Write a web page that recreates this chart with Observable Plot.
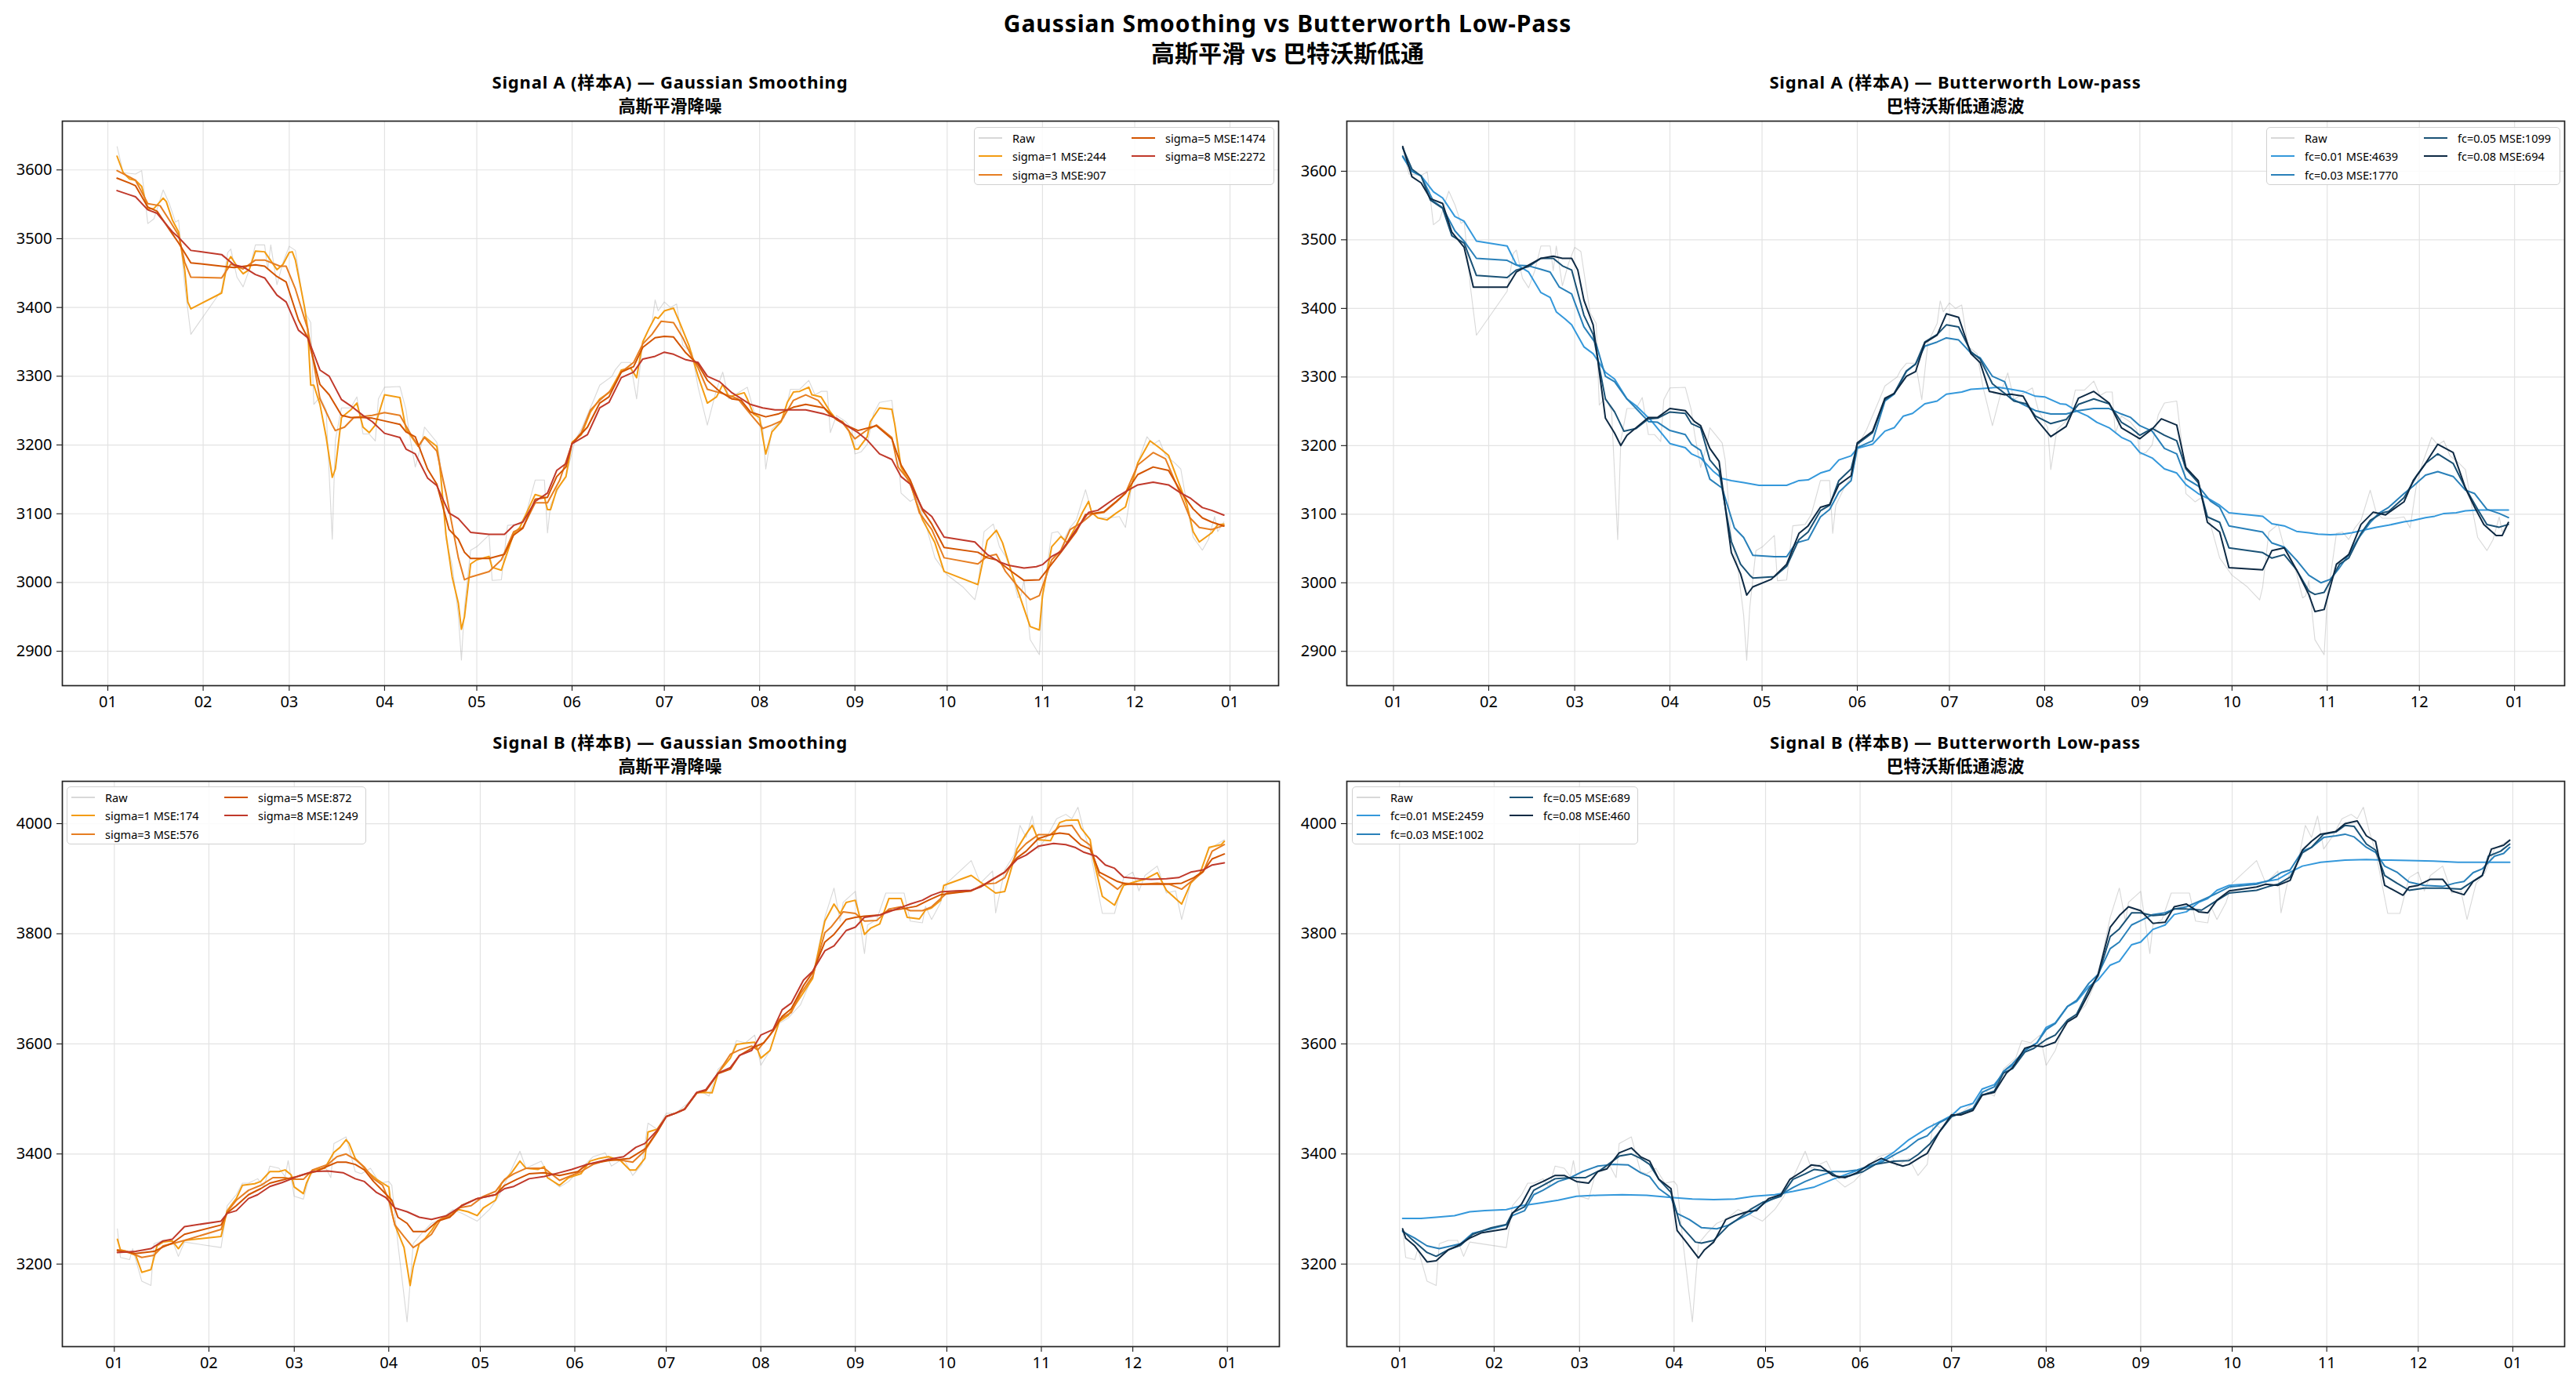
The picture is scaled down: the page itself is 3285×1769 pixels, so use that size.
<!DOCTYPE html>
<html><head><meta charset="utf-8">
<script src="https://cdn.jsdelivr.net/npm/d3@7"></script>
<script src="https://cdn.jsdelivr.net/npm/@observablehq/plot@0.6"></script>
<style>
body{margin:0;background:#fff;}
#fig{position:relative;width:3285px;height:1769px;background:#fff;overflow:hidden;font-family:"Noto Sans","Noto Sans CJK SC",sans-serif;color:#000;}
.t{position:absolute;transform:translate(-50%,-50%);white-space:nowrap;font-weight:bold;text-align:center;line-height:1.1;}
.panel{position:absolute;}
.legend{position:absolute;border:1.3px solid #d0d0d0;border-radius:5px;background:rgba(255,255,255,0.85);box-sizing:border-box;}
</style></head>
<body><div id="fig"></div>
<script>
// ---------------- DATA ----------------
// day = days since 2023-01-01
const figTitle = ["Gaussian Smoothing vs Butterworth Low-Pass", "高斯平滑 vs 巴特沃斯低通"];
const panelTitles = [
  ["Signal A (样本A) — Gaussian Smoothing", "高斯平滑降噪"],
  ["Signal A (样本A) — Butterworth Low-pass", "巴特沃斯低通滤波"],
  ["Signal B (样本B) — Gaussian Smoothing", "高斯平滑降噪"],
  ["Signal B (样本B) — Butterworth Low-pass", "巴特沃斯低通滤波"]
];
const sigmas = [1, 3, 5, 8];
const cutoffs = ["0.01", "0.03", "0.05", "0.08"];
const A_gaussMSE = [244, 907, 1474, 2272];
const A_butterMSE = [4639, 1770, 1099, 694];
const B_gaussMSE = [174, 576, 872, 1249];
const B_butterMSE = [2459, 1002, 689, 460];
const A_yTicks = [2900, 3000, 3100, 3200, 3300, 3400, 3500, 3600];
const B_yTicks = [3200, 3400, 3600, 3800, 4000];

const A_raw = [[3,3634],[5,3596],[9,3594],[11,3599],[13,3522],[15,3529],[18,3571],[20,3551],[22,3524],[23,3527],[25,3433],[27,3361],[37,3425],[39,3480],[40,3485],[42,3444],[44,3430],[46,3455],[48,3491],[51,3491],[52,3455],[53,3491],[55,3433],[57,3466],[59,3489],[61,3483],[64,3394],[66,3378],[67,3259],[69,3270],[71,3251],[73,3063],[74,3207],[76,3254],[79,3254],[81,3270],[83,3216],[85,3216],[87,3206],[88,3267],[90,3284],[95,3285],[97,3251],[98,3218],[100,3168],[102,3201],[103,3226],[107,3204],[108,3179],[110,3063],[112,3025],[114,2953],[115,2887],[116,2964],[118,3047],[120,3052],[124,3069],[125,3003],[128,3004],[130,3083],[134,3085],[136,3099],[139,3149],[142,3149],[143,3072],[144,3113],[147,3141],[149,3154],[152,3207],[154,3223],[158,3265],[160,3287],[164,3300],[165,3309],[167,3320],[170,3320],[172,3267],[174,3350],[177,3378],[178,3411],[179,3395],[181,3408],[183,3400],[185,3405],[187,3345],[190,3334],[192,3284],[195,3229],[198,3281],[200,3306],[202,3267],[205,3276],[208,3284],[210,3251],[213,3226],[214,3165],[216,3223],[220,3240],[222,3281],[225,3281],[228,3294],[230,3273],[232,3278],[234,3278],[235,3218],[237,3243],[240,3234],[242,3223],[243,3187],[245,3190],[247,3201],[249,3245],[251,3262],[255,3265],[257,3190],[258,3130],[261,3118],[263,3124],[266,3085],[269,3036],[273,3011],[278,2994],[282,2975],[283,2994],[285,3074],[288,3085],[290,3052],[292,3038],[294,3014],[296,2978],[297,2981],[298,3003],[300,2917],[303,2895],[304,2975],[307,3072],[309,3074],[311,3063],[313,3080],[315,3091],[318,3135],[320,3102],[322,3094],[326,3094],[329,3096],[331,3080],[333,3141],[335,3174],[338,3212],[340,3201],[342,3207],[344,3185],[347,3174],[349,3165],[351,3113],[353,3066],[356,3047],[358,3063],[360,3096],[361,3074],[363,3088]];
const A_g1 = [[3,3620],[5,3596],[7,3587],[9,3585],[11,3576],[13,3543],[15,3544],[17,3554],[18,3559],[19,3554],[21,3527],[23,3510],[25,3455],[26,3408],[27,3398],[37,3421],[39,3467],[40,3474],[42,3460],[44,3449],[46,3455],[48,3482],[51,3481],[55,3455],[57,3463],[59,3480],[60,3481],[61,3469],[64,3400],[65,3369],[66,3287],[67,3287],[69,3259],[71,3212],[73,3153],[74,3165],[76,3240],[79,3251],[81,3261],[83,3226],[85,3218],[87,3229],[90,3273],[95,3269],[97,3223],[101,3198],[103,3212],[107,3198],[108,3168],[110,3069],[112,3008],[114,2970],[115,2932],[116,2950],[118,3027],[120,3033],[124,3038],[125,3022],[128,3018],[132,3071],[134,3080],[139,3128],[142,3124],[143,3106],[144,3106],[146,3135],[149,3154],[151,3204],[154,3215],[157,3248],[160,3267],[163,3276],[166,3300],[167,3309],[170,3312],[172,3298],[174,3350],[176,3369],[178,3386],[179,3384],[181,3395],[184,3399],[186,3378],[189,3345],[192,3300],[195,3261],[198,3270],[200,3288],[202,3270],[207,3276],[208,3267],[210,3245],[212,3240],[213,3212],[214,3187],[216,3219],[219,3234],[221,3262],[223,3277],[225,3278],[228,3284],[229,3273],[232,3270],[235,3248],[237,3237],[239,3234],[241,3221],[243,3194],[244,3194],[247,3212],[248,3234],[251,3254],[255,3252],[256,3229],[258,3168],[261,3143],[265,3091],[269,3058],[272,3016],[283,2997],[286,3061],[289,3076],[291,3058],[294,3014],[297,2975],[300,2936],[303,2931],[304,2981],[307,3052],[310,3067],[312,3058],[315,3083],[317,3102],[319,3118],[320,3102],[322,3094],[325,3091],[328,3101],[331,3110],[335,3174],[339,3206],[342,3196],[345,3185],[348,3149],[351,3113],[353,3074],[355,3059],[359,3072],[361,3084],[363,3085]];
const A_g3 = [[3,3599],[7,3590],[9,3585],[13,3551],[17,3548],[20,3527],[23,3505],[25,3466],[27,3444],[37,3443],[40,3463],[44,3456],[48,3469],[51,3469],[56,3460],[58,3460],[61,3427],[65,3369],[69,3267],[73,3229],[74,3221],[77,3226],[80,3240],[86,3243],[90,3247],[95,3243],[99,3212],[101,3198],[103,3211],[107,3191],[110,3130],[114,3036],[116,3004],[118,3008],[124,3016],[128,3033],[132,3074],[135,3080],[139,3116],[143,3116],[147,3149],[151,3202],[154,3218],[157,3251],[160,3265],[164,3281],[167,3306],[171,3320],[174,3347],[177,3361],[180,3380],[184,3378],[187,3356],[190,3328],[192,3312],[195,3281],[199,3276],[202,3272],[205,3267],[209,3245],[213,3224],[216,3229],[219,3235],[223,3265],[227,3273],[231,3265],[235,3243],[239,3232],[243,3209],[247,3222],[250,3229],[255,3211],[257,3168],[261,3146],[264,3101],[268,3077],[272,3036],[283,3027],[286,3038],[289,3041],[292,3016],[296,2994],[300,2975],[303,2981],[307,3033],[310,3047],[313,3077],[317,3088],[320,3099],[324,3102],[328,3117],[331,3130],[335,3171],[340,3189],[344,3180],[348,3138],[352,3094],[355,3080],[359,3077],[363,3083]];
const A_g5 = [[3,3588],[7,3581],[9,3577],[13,3546],[16,3540],[21,3507],[23,3494],[27,3465],[37,3460],[41,3458],[48,3462],[51,3460],[55,3445],[58,3437],[62,3382],[65,3356],[69,3288],[72,3273],[76,3243],[79,3240],[83,3240],[86,3239],[90,3235],[95,3230],[97,3219],[100,3212],[104,3165],[107,3143],[111,3077],[114,3063],[116,3044],[118,3035],[124,3035],[129,3041],[132,3069],[135,3079],[139,3121],[143,3124],[146,3154],[149,3168],[151,3202],[156,3226],[160,3261],[163,3270],[167,3306],[171,3314],[174,3342],[178,3356],[181,3358],[184,3357],[188,3334],[192,3317],[195,3294],[199,3278],[203,3267],[206,3265],[209,3248],[214,3241],[218,3245],[223,3255],[227,3259],[233,3254],[237,3237],[240,3229],[244,3221],[250,3228],[255,3209],[258,3171],[261,3149],[265,3105],[268,3085],[272,3051],[283,3044],[286,3036],[289,3033],[294,3016],[298,3003],[303,3004],[307,3027],[310,3044],[315,3074],[318,3099],[324,3103],[328,3118],[331,3130],[335,3157],[340,3168],[345,3163],[349,3132],[353,3107],[356,3094],[359,3088],[363,3082]];
const A_g8 = [[3,3570],[7,3564],[9,3561],[13,3542],[16,3537],[21,3510],[23,3502],[27,3483],[37,3477],[41,3462],[44,3459],[48,3448],[51,3443],[55,3418],[58,3408],[62,3367],[65,3356],[69,3309],[72,3300],[76,3266],[79,3257],[83,3243],[86,3234],[90,3217],[95,3211],[97,3194],[100,3187],[104,3152],[107,3141],[111,3101],[114,3093],[118,3073],[124,3070],[129,3070],[132,3083],[135,3088],[139,3118],[143,3130],[146,3163],[149,3173],[151,3202],[156,3215],[160,3254],[163,3262],[167,3298],[171,3306],[174,3325],[178,3329],[181,3335],[184,3332],[188,3324],[192,3320],[195,3300],[199,3292],[203,3276],[209,3259],[213,3254],[217,3251],[223,3251],[227,3251],[233,3245],[237,3239],[240,3229],[244,3218],[247,3207],[251,3187],[255,3179],[258,3154],[261,3143],[265,3107],[268,3096],[272,3066],[282,3059],[286,3041],[290,3030],[293,3025],[298,3021],[302,3023],[304,3026],[307,3038],[310,3045],[315,3077],[319,3102],[322,3105],[328,3124],[331,3132],[335,3142],[340,3146],[345,3142],[349,3130],[352,3123],[356,3109],[359,3105],[363,3098]];
const A_b1 = [[3,3621],[6,3600],[9,3593],[13,3570],[16,3561],[20,3534],[23,3527],[27,3498],[37,3491],[40,3464],[44,3453],[48,3423],[51,3416],[53,3395],[56,3384],[58,3376],[62,3344],[65,3334],[69,3307],[72,3297],[76,3268],[79,3258],[84,3236],[90,3203],[95,3197],[97,3188],[100,3182],[104,3163],[107,3152],[110,3149],[114,3146],[119,3142],[128,3142],[132,3149],[135,3150],[139,3160],[142,3164],[145,3179],[149,3185],[151,3196],[156,3202],[160,3221],[163,3226],[166,3243],[169,3247],[173,3261],[177,3265],[180,3275],[185,3278],[188,3282],[191,3283],[197,3285],[201,3282],[205,3279],[209,3272],[212,3271],[217,3261],[219,3260],[223,3249],[226,3243],[229,3234],[233,3226],[237,3212],[240,3206],[243,3190],[247,3182],[251,3166],[255,3160],[258,3143],[262,3130],[266,3121],[269,3113],[272,3102],[283,3097],[286,3086],[290,3083],[294,3075],[298,3073],[301,3071],[305,3070],[309,3071],[312,3073],[316,3077],[320,3081],[324,3084],[329,3089],[332,3091],[336,3095],[339,3097],[342,3101],[346,3102],[349,3105],[353,3106],[357,3106],[363,3106]];
const A_b3 = [[3,3622],[6,3600],[9,3593],[13,3556],[16,3547],[20,3513],[23,3498],[27,3473],[37,3470],[40,3463],[44,3462],[48,3457],[51,3453],[54,3431],[58,3421],[62,3373],[66,3348],[69,3301],[72,3293],[76,3268],[79,3254],[83,3235],[86,3234],[90,3222],[95,3216],[97,3202],[100,3193],[103,3151],[107,3138],[111,3080],[114,3066],[117,3040],[124,3038],[128,3038],[131,3058],[135,3063],[139,3096],[142,3107],[145,3132],[149,3149],[151,3197],[156,3207],[160,3265],[163,3275],[167,3308],[170,3319],[173,3345],[177,3351],[180,3357],[184,3354],[188,3335],[191,3328],[195,3301],[199,3293],[201,3269],[205,3260],[209,3251],[214,3246],[219,3246],[223,3251],[228,3254],[233,3254],[237,3246],[240,3241],[243,3229],[247,3221],[251,3196],[255,3188],[258,3152],[262,3141],[266,3119],[269,3110],[272,3083],[283,3074],[286,3058],[290,3052],[294,3033],[298,3011],[302,3000],[305,3005],[308,3022],[311,3041],[314,3064],[318,3088],[321,3102],[324,3110],[329,3130],[332,3141],[336,3157],[340,3162],[345,3155],[349,3135],[352,3130],[356,3107],[360,3101],[363,3095]];
const A_b5 = [[3,3634],[6,3603],[9,3593],[12,3558],[16,3546],[19,3506],[23,3495],[27,3448],[37,3445],[40,3456],[44,3461],[48,3473],[52,3473],[55,3462],[58,3456],[62,3390],[65,3362],[69,3268],[72,3249],[75,3221],[79,3225],[83,3239],[86,3240],[90,3249],[95,3247],[97,3232],[100,3226],[103,3179],[106,3163],[110,3060],[113,3027],[116,3011],[117,3007],[124,3009],[128,3024],[132,3063],[135,3074],[139,3105],[142,3113],[145,3149],[149,3166],[151,3202],[156,3219],[160,3267],[163,3276],[167,3309],[170,3319],[173,3351],[177,3362],[180,3376],[184,3373],[188,3337],[191,3326],[195,3290],[199,3276],[202,3265],[206,3261],[209,3243],[214,3232],[219,3238],[223,3260],[228,3268],[233,3261],[237,3234],[240,3226],[243,3215],[247,3225],[251,3215],[255,3207],[258,3166],[262,3146],[265,3096],[269,3088],[272,3051],[283,3044],[286,3036],[290,3041],[294,3019],[298,2988],[300,2983],[303,2986],[308,3027],[311,3036],[315,3072],[318,3091],[322,3102],[324,3104],[329,3124],[333,3155],[336,3174],[340,3188],[345,3174],[349,3138],[353,3107],[356,3085],[360,3081],[363,3085]];
const A_b8 = [[3,3636],[6,3592],[9,3583],[12,3560],[16,3553],[19,3511],[23,3489],[26,3431],[37,3431],[40,3453],[44,3463],[48,3473],[52,3476],[55,3473],[58,3473],[60,3456],[62,3412],[65,3376],[69,3240],[72,3218],[74,3200],[76,3215],[79,3226],[83,3241],[86,3241],[90,3254],[95,3251],[98,3235],[100,3229],[103,3196],[106,3177],[110,3044],[113,3013],[115,2982],[117,2994],[123,3005],[128,3027],[132,3072],[135,3083],[139,3110],[142,3114],[145,3143],[149,3156],[151,3204],[156,3221],[160,3269],[163,3276],[167,3301],[170,3308],[173,3350],[177,3361],[180,3392],[184,3387],[188,3334],[191,3321],[194,3279],[199,3274],[201,3275],[205,3272],[209,3240],[214,3213],[219,3228],[223,3269],[228,3279],[233,3262],[237,3226],[240,3218],[243,3210],[247,3224],[250,3239],[255,3230],[258,3168],[262,3149],[265,3088],[269,3074],[272,3022],[283,3019],[286,3047],[290,3051],[294,3019],[298,2983],[300,2958],[303,2961],[307,3027],[311,3041],[315,3085],[319,3103],[323,3099],[329,3118],[332,3149],[336,3174],[340,3202],[345,3190],[349,3138],[352,3110],[355,3085],[359,3069],[361,3069],[363,3088]];

const B_raw = [[1,3264],[2,3212],[5,3208],[6,3228],[9,3169],[12,3161],[13,3237],[16,3243],[19,3243],[21,3214],[23,3240],[35,3230],[37,3306],[40,3326],[42,3347],[44,3347],[47,3355],[49,3340],[51,3378],[54,3374],[56,3359],[57,3388],[59,3323],[62,3318],[64,3360],[66,3373],[69,3378],[71,3357],[72,3419],[76,3431],[79,3368],[81,3364],[84,3374],[87,3347],[90,3350],[91,3343],[93,3237],[96,3095],[98,3237],[101,3257],[104,3274],[107,3281],[111,3299],[114,3292],[119,3278],[123,3299],[126,3323],[129,3357],[133,3405],[135,3374],[140,3387],[143,3354],[146,3340],[149,3350],[153,3374],[157,3395],[161,3402],[163,3378],[167,3392],[170,3361],[173,3381],[175,3456],[178,3445],[181,3474],[184,3474],[188,3492],[192,3515],[195,3505],[198,3554],[202,3574],[204,3606],[207,3602],[210,3616],[212,3561],[215,3588],[218,3637],[221,3647],[225,3671],[229,3723],[233,3830],[236,3883],[238,3823],[239,3857],[243,3877],[246,3764],[247,3816],[250,3826],[253,3874],[259,3874],[261,3823],[265,3820],[266,3850],[268,3826],[271,3857],[273,3892],[281,3933],[284,3892],[288,3914],[289,3838],[292,3916],[295,3943],[297,3997],[299,3975],[301,4014],[303,3954],[306,3978],[309,4009],[312,4017],[314,4009],[316,4030],[318,3985],[320,3950],[324,3837],[328,3837],[331,3902],[334,3912],[336,3878],[338,3906],[342,3923],[345,3874],[348,3878],[350,3826],[353,3892],[356,3912],[359,3954],[362,3964],[364,3971]];
const B_g1 = [[1,3245],[2,3226],[4,3223],[7,3216],[9,3185],[12,3190],[14,3233],[16,3240],[19,3242],[21,3228],[23,3243],[35,3250],[37,3297],[40,3319],[42,3343],[46,3346],[48,3350],[51,3368],[54,3368],[56,3371],[58,3362],[59,3340],[62,3328],[63,3347],[65,3371],[69,3374],[72,3403],[74,3412],[76,3426],[77,3419],[79,3392],[81,3381],[83,3368],[86,3354],[88,3347],[90,3340],[91,3295],[92,3271],[95,3230],[97,3161],[98,3195],[100,3237],[102,3247],[104,3261],[106,3278],[109,3288],[113,3299],[116,3295],[119,3288],[121,3302],[125,3316],[127,3347],[130,3364],[133,3387],[135,3374],[139,3372],[141,3377],[142,3357],[146,3343],[149,3357],[153,3364],[156,3387],[159,3392],[162,3395],[166,3388],[169,3371],[171,3371],[174,3392],[175,3440],[178,3445],[181,3468],[184,3474],[187,3481],[191,3511],[193,3512],[196,3511],[198,3547],[202,3574],[204,3599],[208,3602],[210,3603],[212,3574],[215,3588],[218,3640],[221,3652],[225,3685],[229,3719],[233,3823],[236,3854],[238,3837],[240,3857],[243,3861],[246,3799],[248,3810],[251,3818],[254,3864],[258,3864],[260,3830],[264,3827],[266,3843],[268,3847],[271,3861],[272,3888],[281,3906],[285,3890],[289,3874],[292,3877],[296,3954],[299,3981],[301,3997],[303,3971],[307,3969],[310,4002],[312,4006],[316,4007],[317,3992],[320,3971],[321,3937],[324,3868],[328,3852],[331,3888],[335,3895],[338,3899],[342,3911],[345,3879],[350,3854],[353,3892],[356,3909],[359,3957],[363,3962],[364,3968]];
const B_g3 = [[1,3226],[4,3223],[9,3212],[13,3216],[16,3233],[19,3237],[23,3243],[35,3263],[37,3295],[40,3316],[44,3334],[48,3343],[52,3357],[56,3357],[58,3354],[62,3354],[65,3371],[70,3381],[73,3395],[76,3400],[79,3390],[82,3376],[85,3355],[88,3343],[90,3316],[92,3271],[95,3250],[98,3230],[100,3237],[104,3254],[107,3281],[111,3290],[113,3302],[117,3306],[121,3323],[125,3332],[128,3354],[131,3364],[135,3374],[141,3374],[146,3352],[149,3359],[153,3368],[157,3381],[162,3390],[167,3388],[170,3385],[174,3406],[178,3440],[181,3468],[184,3474],[187,3482],[191,3511],[194,3515],[198,3547],[202,3581],[205,3589],[209,3596],[211,3589],[215,3616],[218,3644],[222,3657],[225,3691],[229,3723],[233,3802],[235,3812],[239,3840],[243,3837],[246,3823],[250,3824],[254,3845],[258,3849],[261,3842],[265,3842],[268,3849],[271,3864],[273,3874],[281,3878],[285,3890],[289,3892],[292,3902],[296,3947],[299,3964],[303,3980],[307,3980],[310,3995],[314,3997],[317,3973],[320,3961],[323,3906],[329,3881],[331,3892],[337,3890],[342,3892],[346,3890],[350,3881],[354,3899],[357,3912],[360,3950],[364,3962]];
const B_g5 = [[1,3224],[7,3219],[13,3223],[16,3231],[19,3238],[23,3254],[35,3271],[37,3293],[40,3306],[44,3326],[48,3337],[51,3347],[56,3354],[60,3359],[63,3364],[66,3368],[70,3378],[73,3385],[76,3385],[79,3381],[82,3371],[85,3350],[88,3333],[91,3316],[93,3285],[96,3274],[98,3259],[102,3259],[106,3278],[110,3285],[114,3307],[119,3319],[125,3326],[128,3343],[132,3354],[136,3364],[141,3366],[146,3361],[152,3368],[155,3381],[162,3388],[169,3392],[174,3409],[178,3440],[181,3468],[184,3474],[187,3481],[191,3511],[194,3515],[198,3546],[202,3554],[205,3579],[209,3592],[213,3602],[216,3623],[219,3650],[222,3664],[226,3706],[229,3730],[233,3785],[236,3799],[240,3826],[243,3830],[246,3832],[251,3834],[254,3842],[258,3845],[263,3850],[267,3861],[271,3871],[275,3874],[281,3878],[285,3888],[289,3902],[292,3912],[296,3938],[299,3950],[303,3973],[307,3980],[310,3983],[313,3981],[317,3961],[320,3954],[323,3912],[329,3895],[332,3890],[338,3890],[344,3890],[350,3892],[354,3902],[357,3913],[360,3936],[364,3945]];
const B_g8 = [[1,3221],[7,3223],[12,3228],[16,3242],[19,3245],[23,3268],[35,3278],[37,3292],[40,3297],[44,3319],[47,3326],[51,3341],[55,3348],[60,3359],[65,3368],[70,3369],[75,3366],[79,3355],[82,3350],[86,3330],[89,3321],[92,3302],[96,3295],[100,3285],[104,3281],[109,3288],[114,3306],[119,3319],[125,3326],[128,3337],[131,3341],[136,3355],[141,3359],[146,3366],[150,3372],[155,3381],[162,3390],[167,3395],[171,3412],[174,3419],[178,3443],[181,3468],[184,3474],[187,3481],[191,3512],[194,3517],[198,3547],[202,3557],[205,3579],[209,3588],[212,3616],[216,3626],[219,3662],[222,3674],[226,3716],[229,3732],[233,3769],[236,3778],[240,3806],[243,3812],[246,3830],[251,3834],[255,3842],[259,3850],[261,3854],[265,3861],[268,3870],[271,3876],[276,3878],[281,3879],[284,3885],[288,3899],[292,3912],[296,3935],[299,3943],[303,3959],[308,3964],[312,3962],[315,3957],[318,3948],[322,3941],[325,3925],[328,3919],[331,3903],[336,3900],[340,3899],[345,3900],[349,3902],[353,3912],[357,3916],[360,3925],[364,3929]];
const B_b1 = [[1,3283],[7,3283],[12,3285],[18,3288],[23,3295],[28,3297],[35,3299],[40,3306],[45,3310],[52,3316],[58,3323],[65,3325],[73,3326],[81,3325],[89,3321],[96,3318],[103,3317],[110,3318],[116,3323],[123,3326],[129,3332],[136,3340],[142,3354],[149,3368],[156,3381],[162,3403],[167,3426],[173,3447],[178,3461],[181,3470],[184,3485],[188,3492],[191,3518],[195,3526],[199,3554],[202,3564],[205,3588],[209,3602],[212,3630],[215,3638],[219,3668],[222,3677],[226,3704],[229,3716],[233,3743],[236,3750],[240,3780],[243,3785],[247,3808],[251,3816],[254,3835],[258,3840],[262,3857],[265,3864],[268,3879],[272,3888],[281,3892],[284,3895],[288,3899],[292,3912],[296,3923],[302,3930],[310,3934],[317,3935],[323,3934],[331,3933],[339,3932],[347,3930],[355,3930],[364,3930]];
const B_b3 = [[1,3259],[5,3247],[9,3233],[13,3228],[17,3233],[20,3237],[24,3256],[30,3264],[35,3271],[37,3288],[41,3297],[44,3326],[47,3334],[52,3350],[56,3357],[60,3368],[65,3378],[70,3381],[75,3380],[79,3366],[82,3359],[85,3337],[89,3321],[91,3292],[95,3281],[99,3266],[104,3264],[108,3271],[110,3278],[115,3292],[120,3312],[125,3326],[129,3339],[133,3350],[138,3361],[142,3368],[146,3368],[150,3371],[154,3378],[158,3385],[163,3401],[166,3409],[170,3426],[173,3433],[177,3457],[181,3468],[184,3474],[188,3483],[191,3512],[195,3522],[198,3550],[201,3564],[205,3588],[209,3602],[212,3626],[215,3637],[219,3668],[222,3679],[226,3710],[229,3726],[233,3773],[236,3785],[240,3816],[243,3824],[247,3835],[251,3838],[254,3845],[258,3849],[263,3861],[267,3871],[272,3885],[281,3890],[285,3897],[289,3911],[292,3916],[296,3950],[299,3957],[303,3975],[307,3978],[310,3981],[313,3976],[317,3957],[320,3948],[323,3923],[327,3912],[331,3894],[336,3888],[342,3886],[346,3892],[349,3895],[352,3911],[355,3918],[359,3941],[362,3946],[364,3957]];
const B_b5 = [[1,3261],[4,3245],[9,3221],[12,3214],[16,3226],[20,3234],[24,3254],[30,3266],[35,3272],[37,3293],[41,3304],[44,3334],[47,3343],[51,3355],[56,3357],[61,3357],[66,3371],[72,3396],[76,3400],[79,3392],[82,3381],[85,3354],[89,3330],[92,3271],[97,3240],[99,3238],[103,3243],[108,3271],[110,3278],[115,3299],[119,3312],[125,3323],[129,3354],[133,3364],[136,3372],[141,3368],[144,3357],[148,3361],[152,3368],[156,3381],[162,3387],[167,3388],[170,3399],[174,3419],[177,3440],[181,3468],[184,3474],[188,3481],[191,3507],[195,3514],[198,3547],[201,3555],[205,3585],[208,3592],[212,3608],[215,3616],[219,3643],[222,3654],[226,3699],[229,3723],[233,3795],[236,3809],[240,3838],[243,3838],[247,3833],[251,3835],[254,3845],[258,3845],[263,3843],[267,3857],[272,3874],[281,3879],[285,3886],[288,3890],[292,3903],[296,3947],[299,3957],[303,3981],[307,3985],[310,3997],[313,3995],[317,3963],[320,3952],[323,3906],[327,3892],[331,3879],[336,3883],[342,3883],[348,3881],[351,3892],[355,3906],[357,3941],[361,3950],[364,3963]];
const B_b8 = [[1,3264],[2,3247],[5,3233],[9,3204],[12,3206],[16,3226],[19,3233],[23,3247],[27,3257],[35,3264],[37,3292],[40,3309],[43,3340],[47,3350],[51,3361],[54,3361],[58,3350],[62,3347],[65,3368],[68,3373],[72,3402],[76,3411],[79,3395],[82,3387],[85,3354],[89,3337],[91,3261],[94,3240],[98,3211],[100,3226],[103,3240],[107,3281],[110,3288],[114,3295],[117,3297],[121,3319],[125,3326],[128,3354],[132,3368],[135,3380],[138,3378],[142,3361],[146,3357],[150,3366],[154,3381],[158,3392],[161,3385],[165,3378],[167,3381],[171,3395],[173,3401],[177,3440],[181,3471],[184,3471],[188,3479],[191,3507],[195,3512],[199,3547],[201,3557],[205,3592],[208,3597],[211,3595],[215,3603],[219,3640],[222,3650],[226,3692],[229,3726],[233,3812],[236,3833],[239,3849],[243,3842],[247,3819],[251,3821],[254,3849],[258,3854],[262,3840],[265,3838],[268,3861],[272,3878],[281,3885],[284,3890],[288,3888],[292,3897],[296,3952],[299,3968],[302,3981],[307,3986],[310,4000],[314,4005],[317,3978],[320,3968],[323,3888],[329,3870],[331,3885],[334,3888],[338,3899],[342,3899],[345,3878],[349,3871],[352,3895],[355,3906],[358,3954],[362,3961],[364,3970]];

// ---------------- STYLE ----------------
const gaussColors = ["#f39c12", "#e67e22", "#d35400", "#c0392b"];
const butterColors = ["#3498db", "#2980b9", "#1a5276", "#0e2a44"];
const rawStyle = {color: "#a8a8a8", w: 1.1, o: 0.45};
const FONT = '"Noto Sans","Noto Sans CJK SC",sans-serif';

const fig = document.getElementById("fig");
const day0 = Date.UTC(2023, 0, 1);
const toDate = d => new Date(day0 + d * 864e5);
const monthTicks = d3.utcMonth.range(new Date(Date.UTC(2023, 0, 1)), new Date(Date.UTC(2024, 0, 2)));

function addText(txt, x, y, size, ls) {
  const el = document.createElement("div");
  el.className = "t";
  el.textContent = txt;
  el.style.left = x + "px"; el.style.top = y + "px"; el.style.fontSize = size + "px";
  if (ls) el.style.letterSpacing = ls + "px";
  fig.append(el);
}

function panel(p) {
  const ML = 79, MR = 10, MT = 10, MB = 52;
  const marks = [
    Plot.gridX(monthTicks, {stroke: "#e3e3e3", strokeOpacity: 1, strokeWidth: 1.2}),
    Plot.gridY(p.yTicks, {stroke: "#e3e3e3", strokeOpacity: 1, strokeWidth: 1.2}),
    Plot.axisX(monthTicks, {tickFormat: d3.utcFormat("%m"), tickSize: 7, tickPadding: 6, label: null}),
    Plot.axisY(p.yTicks, {tickFormat: d3.format("d"), tickSize: 7, tickPadding: 6, label: null})
  ];
  p.series.forEach(s => {
    marks.push(Plot.line(s.data, {x: q => toDate(q[0]), y: q => q[1], stroke: s.color, strokeWidth: s.w, strokeOpacity: s.o, curve: "linear"}));
  });
  marks.push(Plot.frame({stroke: "#222", strokeWidth: 1.7}));
  const chart = Plot.plot({
    width: ML + p.fw + MR, height: MT + p.fh + MB,
    marginLeft: ML, marginRight: MR, marginTop: MT, marginBottom: MB,
    x: {type: "utc", domain: p.xDom.map(toDate)},
    y: {domain: p.yDom},
    style: {fontFamily: FONT, fontSize: "20px", color: "#000", background: "transparent", overflow: "visible"},
    marks
  });
  const wrap = document.createElement("div");
  wrap.className = "panel";
  wrap.style.left = p.left + "px"; wrap.style.top = p.top + "px";
  wrap.append(chart);
  fig.append(wrap);

  // legend
  const L = p.legend;
  const box = document.createElement("div");
  box.className = "legend";
  Object.assign(box.style, {left: L.left + "px", top: L.top + "px", width: L.width + "px", height: "74px"});
  p.series.forEach((s, i) => {
    const col = i < 3 ? 0 : 1, row = i < 3 ? i : i - 3;
    const x0 = col === 0 ? 5 : 200;
    const y = 13 + row * 23.3;
    const sw = document.createElement("div");
    sw.style.cssText = `position:absolute;left:${x0}px;top:${y - s.w / 2}px;width:30px;height:${s.w}px;background:${s.color};opacity:${s.o}`;
    const tx = document.createElement("div");
    tx.textContent = s.label;
    tx.style.cssText = `position:absolute;left:${x0 + 43}px;top:${y}px;transform:translateY(-50%);font-size:14.5px;white-space:nowrap;line-height:1`;
    box.append(sw, tx);
  });
  fig.append(box);
}

function seriesSet(raw, lines, colors, names, mses) {
  const out = [{data: raw, color: rawStyle.color, w: rawStyle.w, o: rawStyle.o, label: "Raw"}];
  lines.forEach((d, i) => out.push({data: d, color: colors[i], w: 2, o: 1, label: `${names[i]} MSE:${mses[i]}`}));
  return out;
}

// titles
addText(figTitle[0], 1642, 29, 30, 0.9);
addText(figTitle[1], 1642, 67, 30);
const cx = [854.5, 2493.5];
addText(panelTitles[0][0], cx[0], 104, 22, 0.8); addText(panelTitles[0][1], cx[0], 134, 22);
addText(panelTitles[1][0], cx[1], 104, 22, 0.8); addText(panelTitles[1][1], cx[1], 134, 22);
addText(panelTitles[2][0], cx[0], 946, 22, 0.8); addText(panelTitles[2][1], cx[0], 976, 22);
addText(panelTitles[3][0], cx[1], 946, 22, 0.8); addText(panelTitles[3][1], cx[1], 976, 22);

const sigNames = sigmas.map(s => "sigma=" + s);
const fcNames = cutoffs.map(f => "fc=" + f);

panel({left: 0, top: 144, fw: 1551, fh: 720, xDom: [-14.8, 380.8], yDom: [2850, 3671], yTicks: A_yTicks,
  series: seriesSet(A_raw, [A_g1, A_g3, A_g5, A_g8], gaussColors, sigNames, A_gaussMSE),
  legend: {left: 1242, top: 162, width: 383}});
panel({left: 1638, top: 144, fw: 1553, fh: 720, xDom: [-15.2, 381.3], yDom: [2850, 3673], yTicks: A_yTicks,
  series: seriesSet(A_raw, [A_b1, A_b3, A_b5, A_b8], butterColors, fcNames, A_butterMSE),
  legend: {left: 2890, top: 162, width: 375}});
panel({left: 0, top: 986, fw: 1552, fh: 721, xDom: [-17.05, 382.05], yDom: [3050, 4077], yTicks: B_yTicks,
  series: seriesSet(B_raw, [B_g1, B_g3, B_g5, B_g8], gaussColors, sigNames, B_gaussMSE),
  legend: {left: 85, top: 1003, width: 382}});
panel({left: 1638, top: 986, fw: 1553, fh: 721, xDom: [-17.3, 382], yDom: [3050, 4077], yTicks: B_yTicks,
  series: seriesSet(B_raw, [B_b1, B_b3, B_b5, B_b8], butterColors, fcNames, B_butterMSE),
  legend: {left: 1724, top: 1003, width: 365}});
</script>
</body></html>
